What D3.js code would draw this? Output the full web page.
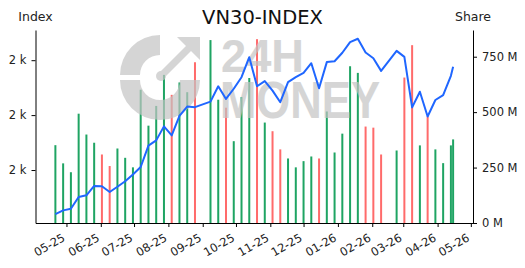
<!DOCTYPE html>
<html>
<head>
<meta charset="utf-8">
<script src="https://cdn.jsdelivr.net/npm/d3@7"></script>
<style>
  body { margin: 0; background: #fff; }
  svg { display: block; font-family: "DejaVu Sans", sans-serif; }
</style>
</head>
<body>
<svg id="chart"></svg>
<script>
// weekly VN30 data (Tet week and 01/09 week have no row)
let dates = [
  "2025-04-21", "2025-04-28", "2025-05-05", "2025-05-12", "2025-05-19", "2025-05-26",
  "2025-06-02", "2025-06-09", "2025-06-16", "2025-06-23", "2025-06-30", "2025-07-07",
  "2025-07-14", "2025-07-21", "2025-07-28", "2025-08-04", "2025-08-11", "2025-08-18",
  "2025-08-25", "2025-09-08", "2025-09-15", "2025-09-22", "2025-09-29", "2025-10-06",
  "2025-10-13", "2025-10-20", "2025-10-27", "2025-11-03", "2025-11-10", "2025-11-17",
  "2025-11-24", "2025-12-01", "2025-12-08", "2025-12-15", "2025-12-22", "2025-12-29",
  "2026-01-05", "2026-01-12", "2026-01-19", "2026-01-26", "2026-02-02", "2026-02-09",
  "2026-02-23", "2026-03-02", "2026-03-09", "2026-03-16", "2026-03-23", "2026-03-30",
  "2026-04-06", "2026-04-13", "2026-04-15"
];
let closeIdx = [
  1439, 1453, 1459, 1502, 1508, 1542,
  1541, 1520, 1539, 1559, 1584, 1611,
  1689, 1708, 1759, 1726, 1797, 1831,
  1829, 1849, 1905, 1859, 1896, 1938,
  2011, 1905, 1924, 1889, 1847, 1920,
  1938, 1954, 1989, 1898, 1993, 1996,
  2027, 2066, 2078, 2028, 2007, 1961,
  2034, 2012, 1828, 1885, 1795, 1855,
  1873, 1943, 1976
];
let volumeM = [
  351, 269, 229, 493, 399, 362,
  309, 257, 336, 294, 251, 601,
  439, 528, 668, 578, 634, 590,
  725, 825, 556, 520, 369, 568,
  654, 829, 453, 414, 332, 291,
  251, 279, 300, 291, 503, 318,
  403, 707, 677, 435, 430, 309,
  327, 656, 802, 350, 481, 332,
  270, 350, 377
];
let leftTicks = [1600, 1800, 2000];
let rightTicks = [0, 250, 500, 750];

let width = 525;
let height = 268;
let plotLeft = 35.5;
let plotRight = 473;
let plotTop = 30;
let plotBottom = 223;

let green = "#1fa463";
let red = "#ff6b6b";
let blue = "#1f66ff";

let parse = d3.timeParse("%Y-%m-%d");
let values = dates.map((d, i) => ({
  date: parse(d),
  close: closeIdx[i],
  vol: volumeM[i],
  up: i === 0 || closeIdx[i] >= closeIdx[i - 1]
}));

let svg = d3.select("#chart").attr("width", width).attr("height", height);

// matplotlib style 5% margins
let pad = (lo, hi) => {
  let m = (hi - lo) * 0.05;
  return [lo - m, hi + m];
};

let t0 = d3.min(values, d => d.date).getTime();
let t1 = d3.max(values, d => d.date).getTime();
let tDom = pad(t0, t1);
let xScale = d3.scaleTime()
  .domain([new Date(tDom[0]), new Date(tDom[1])])
  .range([plotLeft, plotRight]);

let yLeft = d3.scaleLinear()
  .domain(pad(d3.min(closeIdx), d3.max(closeIdx)))
  .range([plotBottom, plotTop]);

let yRight = d3.scaleLinear()
  .domain([0, d3.max(volumeM) * 1.05])
  .range([plotBottom, plotTop]);

// volume bars
svg.append("g")
  .selectAll("rect")
  .data(values)
  .enter()
  .append("rect")
  .attr("x", d => xScale(d.date) - 1)
  .attr("width", 2)
  .attr("y", d => yRight(d.vol))
  .attr("height", d => plotBottom - yRight(d.vol))
  .attr("fill", d => d.up ? green : red);

// watermark
let wm = svg.append("g").attr("fill", "#c4c4c4").attr("opacity", 0.7);
let ring = d3.arc().innerRadius(20).outerRadius(40);
wm.append("path")
  .attr("transform", "translate(160,80)")
  .attr("d", ring({ startAngle: Math.PI / 2, endAngle: Math.PI * 1.5 }));
wm.append("path")
  .attr("transform", "translate(160,75)")
  .attr("d", ring({ startAngle: Math.PI * 1.5, endAngle: Math.PI * 2 }));
wm.append("path").attr("d", "M177,37 L200,37 L200,60 Z");
wm.append("line")
  .attr("x1", 161).attr("y1", 76).attr("x2", 190).attr("y2", 47)
  .attr("stroke", "#c4c4c4").attr("stroke-width", 7);
wm.append("circle").attr("cx", 161).attr("cy", 76).attr("r", 5);
wm.append("text")
  .attr("x", 221).attr("y", 72)
  .attr("font-family", "Liberation Sans, Arial, sans-serif")
  .attr("font-weight", "bold")
  .attr("font-size", 46)
  .attr("textLength", 83)
  .attr("lengthAdjust", "spacingAndGlyphs")
  .text("24H");
wm.append("text")
  .attr("x", 220).attr("y", 118)
  .attr("font-family", "Liberation Sans, Arial, sans-serif")
  .attr("font-weight", "bold")
  .attr("font-size", 51)
  .attr("textLength", 160)
  .attr("lengthAdjust", "spacingAndGlyphs")
  .text("MONEY");

// index line
let line = d3.line()
  .x(d => xScale(d.date))
  .y(d => yLeft(d.close));

svg.append("path")
  .datum(values)
  .attr("fill", "none")
  .attr("stroke", blue)
  .attr("stroke-width", 2)
  .attr("stroke-linejoin", "round")
  .attr("d", line);

// axes
let styleAxis = (g) => {
  g.attr("font-family", "DejaVu Sans, sans-serif").attr("font-size", 11.5);
  g.selectAll("text").attr("fill", "#222");
};

let xAxis = d3.axisBottom(xScale)
  .ticks(d3.timeMonth.every(1))
  .tickFormat(d3.timeFormat("%m-%y"))
  .tickSize(4)
  .tickSizeOuter(0);

svg.append("g")
  .attr("transform", "translate(0," + plotBottom + ")")
  .call(xAxis)
  .call(styleAxis)
  .selectAll("text")
  .attr("y", null)
  .attr("dy", null)
  .attr("text-anchor", "end")
  .attr("transform", "translate(-1,17) rotate(-30)");

let leftAxis = d3.axisLeft(yLeft)
  .tickValues(leftTicks)
  .tickFormat(d => Math.round(d / 1000) + " k")
  .tickSize(4)
  .tickPadding(5)
  .tickSizeOuter(0);

svg.append("g")
  .attr("transform", "translate(" + plotLeft + ",0)")
  .call(leftAxis)
  .call(styleAxis);

let rightAxis = d3.axisRight(yRight)
  .tickValues(rightTicks)
  .tickFormat(d => d + " M")
  .tickSize(4)
  .tickPadding(5)
  .tickSizeOuter(0);

svg.append("g")
  .attr("transform", "translate(" + plotRight + ",0)")
  .call(rightAxis)
  .call(styleAxis);

// titles
svg.append("text")
  .attr("x", 262.5).attr("y", 24)
  .attr("text-anchor", "middle")
  .attr("font-size", 19.5)
  .attr("fill", "#111")
  .text("VN30-INDEX");

svg.append("text")
  .attr("x", plotLeft).attr("y", 21)
  .attr("text-anchor", "middle")
  .attr("font-size", 12.5)
  .attr("fill", "#222")
  .text("Index");

svg.append("text")
  .attr("x", plotRight).attr("y", 21)
  .attr("text-anchor", "middle")
  .attr("font-size", 12.5)
  .attr("fill", "#222")
  .text("Share");
</script>
</body>
</html>
